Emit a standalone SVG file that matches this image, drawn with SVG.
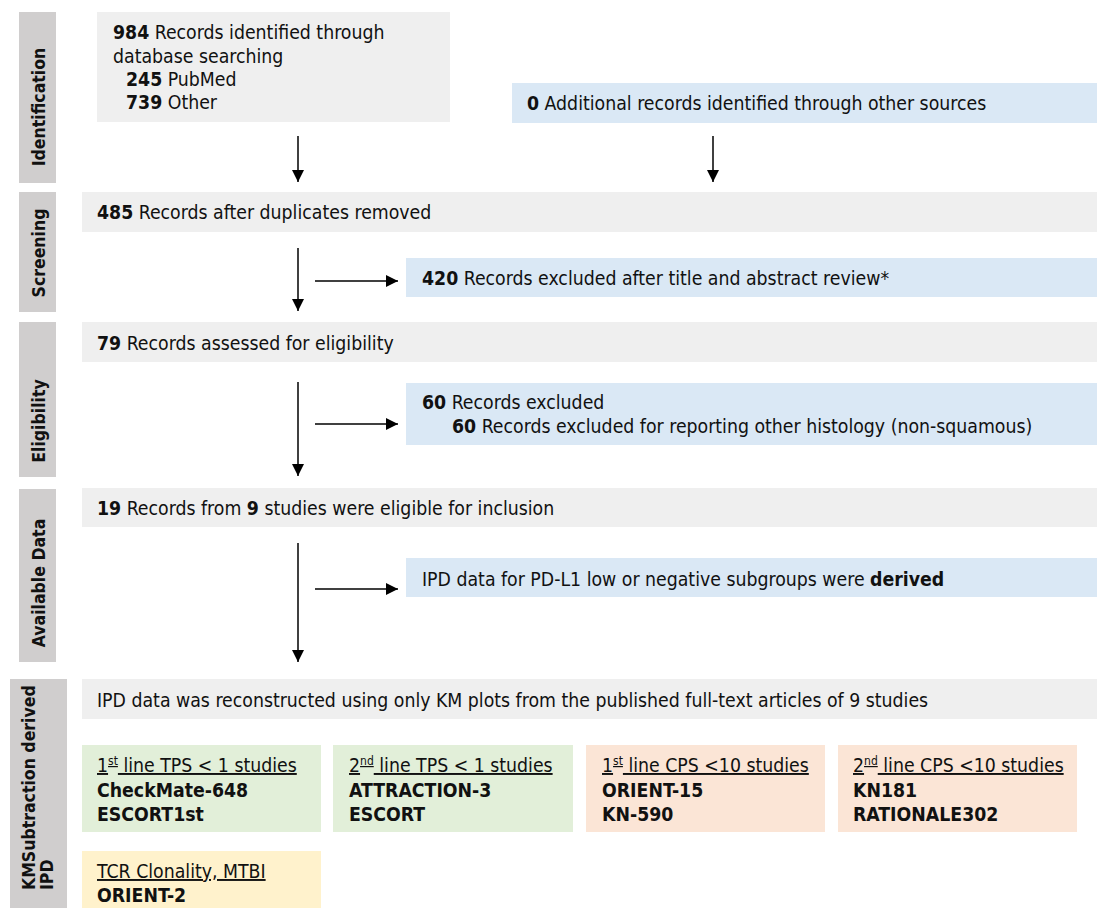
<svg xmlns="http://www.w3.org/2000/svg" width="1099" height="908" viewBox="0 0 1099 908">
<defs>
<marker id="ah" viewBox="0 0 10 10" refX="10" refY="5" markerWidth="12" markerHeight="12" markerUnits="userSpaceOnUse" orient="auto"><path d="M0,0 L10,5 L0,10 z" fill="#000"/></marker>
<style>
text { font-family: 'DejaVu Sans Condensed','DejaVu Sans',sans-serif; font-stretch: semi-condensed; font-size: 19.3px; fill: #111; }
.b { font-weight: bold; }
.lbl { font-weight: bold; font-size: 17.5px; }
.side { fill: #d0cece; }
.gray { fill: #efefef; }
.blue { fill: #dae8f5; }
.green { fill: #e2efd9; }
.peach { fill: #fbe5d6; }
.yellow { fill: #fff2cc; }
.arrow { stroke: #000; stroke-width: 1.5; fill: none; marker-end: url(#ah); }
.u { text-decoration: underline; }
.sup { font-size: 12px; }
</style>
</defs>
<rect width="1099" height="908" fill="#fff"/>

<g id="side-identification"><rect class="side" x="19" y="12" width="37" height="171"/><text class="lbl" transform="translate(45,107) rotate(-90)" text-anchor="middle">Identification</text></g>
<g id="side-screening"><rect class="side" x="19" y="192" width="37" height="120"/><text class="lbl" transform="translate(45,253) rotate(-90)" text-anchor="middle">Screening</text></g>
<g id="side-eligibility"><rect class="side" x="19" y="322" width="37" height="155"/><text class="lbl" transform="translate(45,421) rotate(-90)" text-anchor="middle">Eligibility</text></g>
<g id="side-available"><rect class="side" x="19" y="489" width="37" height="173"/><text class="lbl" transform="translate(45,583) rotate(-90)" text-anchor="middle">Available Data</text></g>
<g id="side-km"><rect class="side" x="10" y="679" width="57" height="229"/><text class="lbl" transform="translate(35,890) rotate(-90)">KMSubtraction derived</text><text class="lbl" transform="translate(53,890) rotate(-90)">IPD</text></g>

<g id="n984"><rect class="gray" x="97" y="12" width="353" height="110"/>
<text x="113" y="39"><tspan class="b">984</tspan> Records identified through</text>
<text x="113" y="63">database searching</text>
<text x="126" y="86"><tspan class="b">245</tspan> PubMed</text>
<text x="126" y="109"><tspan class="b">739</tspan> Other</text></g>

<g id="n0"><rect class="blue" x="512" y="83" width="585" height="40"/>
<text x="527" y="110"><tspan class="b">0</tspan> Additional records identified through other sources</text></g>

<g id="n485"><rect class="gray" x="82" y="192" width="1015" height="40"/>
<text x="97" y="219"><tspan class="b">485</tspan> Records after duplicates removed</text></g>

<g id="n420"><rect class="blue" x="406" y="258" width="691" height="39"/>
<text x="422" y="285"><tspan class="b">420</tspan> Records excluded after title and abstract review*</text></g>

<g id="n79"><rect class="gray" x="82" y="322" width="1015" height="40"/>
<text x="97" y="350"><tspan class="b">79</tspan> Records assessed for eligibility</text></g>

<g id="n60"><rect class="blue" x="406" y="383" width="691" height="62"/>
<text x="422" y="409"><tspan class="b">60</tspan> Records excluded</text>
<text x="452" y="433"><tspan class="b">60</tspan> Records excluded for reporting other histology (non-squamous)</text></g>

<g id="n19"><rect class="gray" x="82" y="488" width="1015" height="39"/>
<text x="97" y="515"><tspan class="b">19</tspan> Records from <tspan class="b">9</tspan> studies were eligible for inclusion</text></g>

<g id="nderived"><rect class="blue" x="406" y="558" width="691" height="39"/>
<text x="422" y="586">IPD data for PD-L1 low or negative subgroups were <tspan class="b">derived</tspan></text></g>

<g id="nkm"><rect class="gray" x="82" y="679" width="1015" height="40"/>
<text x="97" y="707">IPD data was reconstructed using only KM plots from the published full-text articles of 9 studies</text></g>

<g id="g1"><rect class="green" x="82" y="745" width="239" height="87"/>
<text class="u" x="97" y="772">1<tspan class="sup" dy="-7">st</tspan><tspan dy="7"> line TPS &lt; 1 studies</tspan></text>
<text class="b" x="97" y="797">CheckMate-648</text>
<text class="b" x="97" y="821">ESCORT1st</text></g>

<g id="g2"><rect class="green" x="333" y="745" width="240" height="87"/>
<text class="u" x="349" y="772">2<tspan class="sup" dy="-7">nd</tspan><tspan dy="7"> line TPS &lt; 1 studies</tspan></text>
<text class="b" x="349" y="797">ATTRACTION-3</text>
<text class="b" x="349" y="821">ESCORT</text></g>

<g id="p3"><rect class="peach" x="586" y="745" width="239" height="87"/>
<text class="u" x="602" y="772">1<tspan class="sup" dy="-7">st</tspan><tspan dy="7"> line CPS &lt;10 studies</tspan></text>
<text class="b" x="602" y="797">ORIENT-15</text>
<text class="b" x="602" y="821">KN-590</text></g>

<g id="p4"><rect class="peach" x="838" y="745" width="239" height="87"/>
<text class="u" x="853" y="772">2<tspan class="sup" dy="-7">nd</tspan><tspan dy="7"> line CPS &lt;10 studies</tspan></text>
<text class="b" x="853" y="797">KN181</text>
<text class="b" x="853" y="821">RATIONALE302</text></g>

<g id="y1"><rect class="yellow" x="82" y="851" width="239" height="57"/>
<text class="u" x="97" y="878">TCR Clonality, MTBI</text>
<text class="b" x="97" y="902">ORIENT-2</text></g>

<g id="connectors">
<line class="arrow" x1="298" y1="136" x2="298" y2="182"/>
<line class="arrow" x1="713" y1="136" x2="713" y2="182"/>
<line class="arrow" x1="298" y1="248" x2="298" y2="311"/>
<line class="arrow" x1="315" y1="281" x2="398" y2="281"/>
<line class="arrow" x1="298" y1="382" x2="298" y2="476"/>
<line class="arrow" x1="315" y1="424" x2="398" y2="424"/>
<line class="arrow" x1="298" y1="543" x2="298" y2="662"/>
<line class="arrow" x1="315" y1="589" x2="398" y2="589"/>
</g>
</svg>
